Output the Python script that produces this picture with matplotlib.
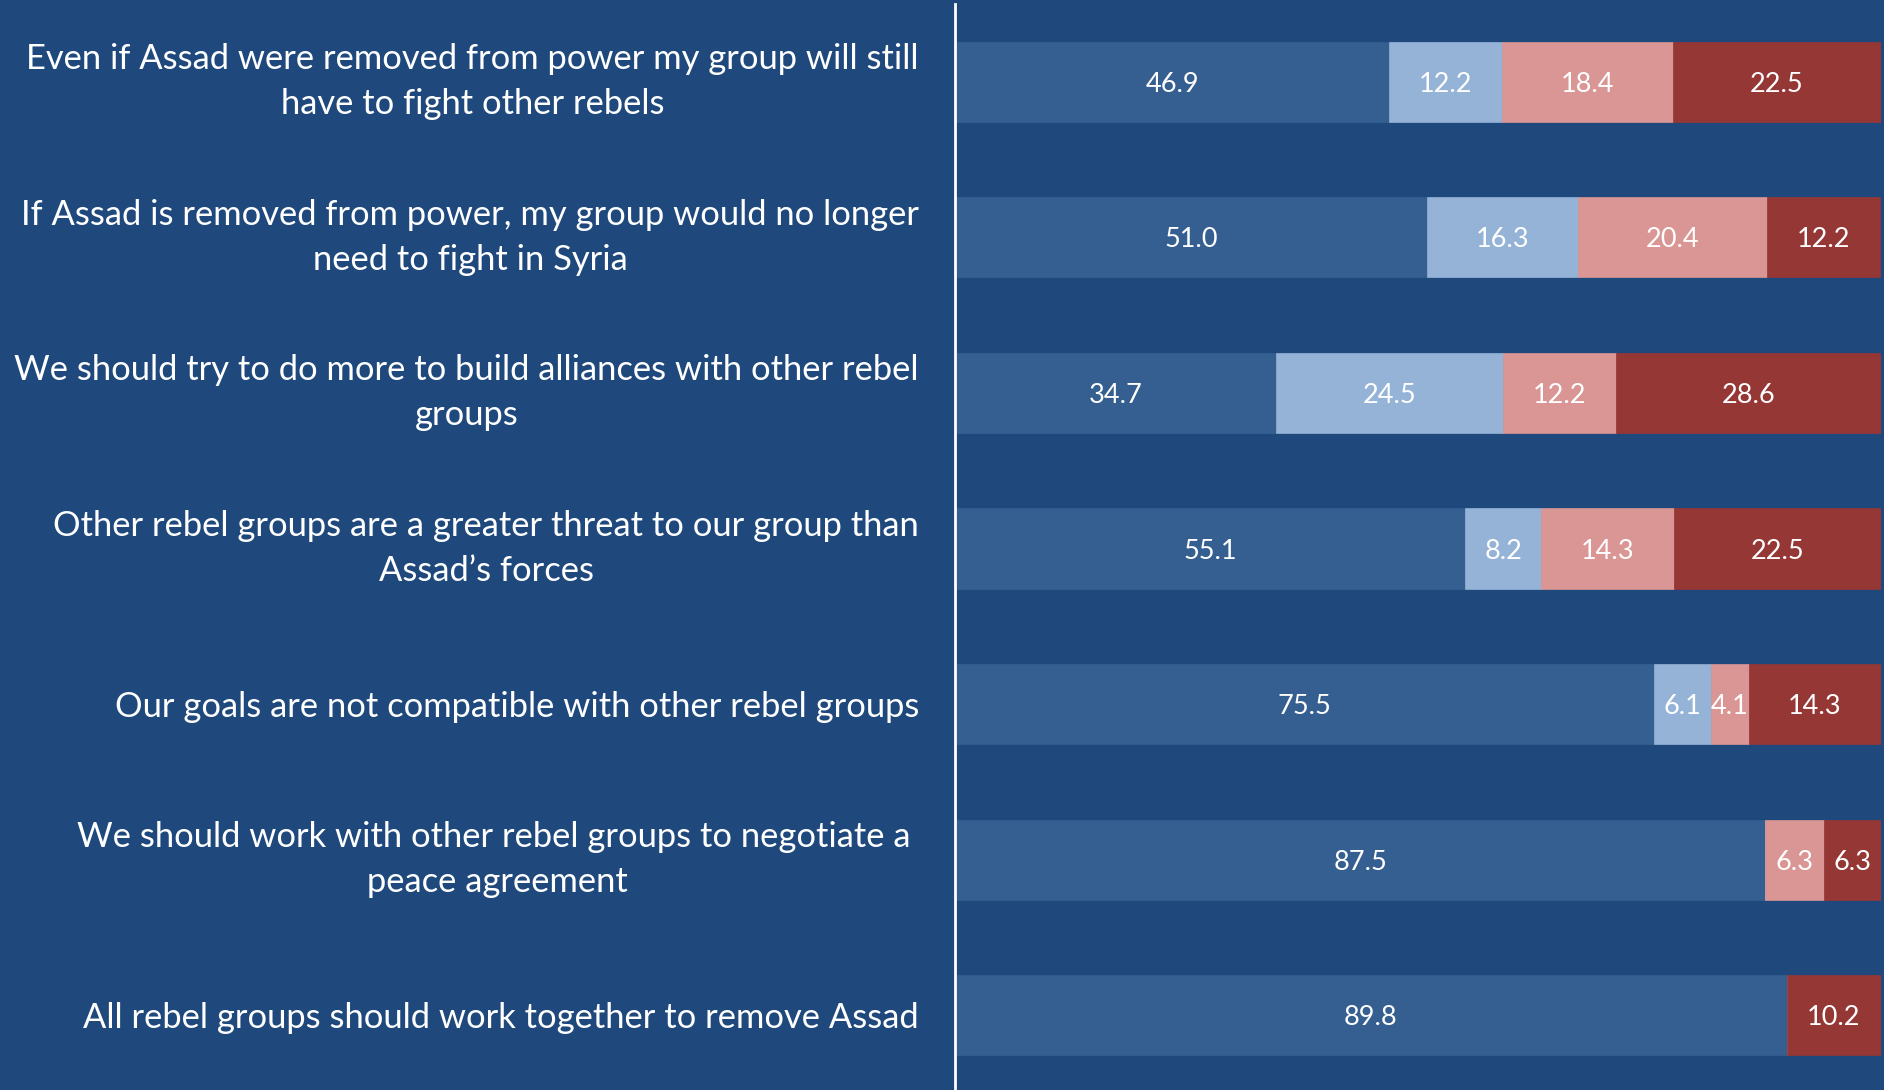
import matplotlib
matplotlib.use("Agg")
import matplotlib.pyplot as plt
import numpy as np

categories = [
    "Even if Assad were removed from power my group will still\nhave to fight other rebels",
    "If Assad is removed from power, my group would no longer\nneed to fight in Syria",
    "We should try to do more to build alliances with other rebel\ngroups",
    "Other rebel groups are a greater threat to our group than\nAssad\u2019s forces",
    "Our goals are not compatible with other rebel groups",
    "We should work with other rebel groups to negotiate a \npeace agreement",
    "All rebel groups should work together to remove Assad",
]
s1 = [46.9, 51.0, 34.7, 55.1, 75.5, 87.5, 89.8]
s2 = [12.2, 16.3, 24.5, 8.2, 6.1, 0.0, 0.0]
s3 = [18.4, 20.4, 12.2, 14.3, 4.1, 6.3, 0.0]
s4 = [22.5, 12.2, 28.6, 22.5, 14.3, 6.3, 10.2]
series = [s1, s2, s3, s4]
colors = ["#365F91", "#95B3D7", "#DA9694", "#953735"]
bg = "#1F497D"

plt.rcParams['font.family'] = ['Lato', 'DejaVu Sans']

fig = plt.figure(figsize=(18.84, 10.90), dpi=100, facecolor=bg)
ax = fig.add_axes([955/1884, 0, (1881-955)/1884, 1 - 4/1090])
ax.set_facecolor(bg)

y = np.arange(len(categories))
left = np.zeros(len(categories))
for vals, c in zip(series, colors):
    vals = np.array(vals)
    ax.barh(y, vals, left=left, height=0.515, color=c, edgecolor=c, linewidth=0.5)
    for yi, v, l in zip(y, vals, left):
        if v > 0:
            ax.text(l + v / 2, yi, f"{v:.1f}", ha='center', va='center_baseline',
                    color='white', fontsize=19.5)
    left = left + vals

ax.set_xlim(0, 100)
ax.set_ylim(6.48, -0.5)
ax.set_xticks([])
ax.set_yticks(y)
ax.set_yticklabels(categories, fontsize=24.8, color='white', linespacing=1.5)
for lab in ax.get_yticklabels():
    lab.set_multialignment('center')
    if "\n" in lab.get_text():
        lab.set_va('center')
ax.tick_params(axis='y', length=0, pad=26)
for side in ['top', 'right', 'bottom']:
    ax.spines[side].set_visible(False)
ax.spines['left'].set_color('white')
ax.spines['left'].set_linewidth(2)

fig.savefig("out.png", dpi=100, facecolor=bg)
